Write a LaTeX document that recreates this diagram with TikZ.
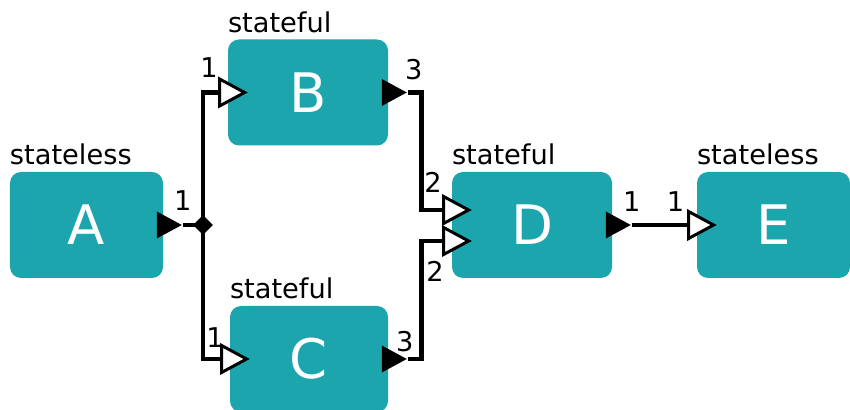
\documentclass[tikz,border=0pt]{standalone}
\usepackage{fontspec}
\setmainfont{DejaVu Sans}
\usetikzlibrary{positioning,shapes.geometric}

\definecolor{opteal}{HTML}{1CA5AD}

\tikzset{%
  >=latex,
  op/.style={fill=opteal, rounded corners=0.22cm, minimum width=3.2cm,
    minimum height=2.12cm, text=white, font=\fontsize{31}{31}\selectfont},
  kind/.style={inner sep=0pt, font=\fontsize{15.5}{16}\selectfont},
  num/.style={inner sep=0pt, font=\fontsize{15.5}{16}\selectfont},
  outport/.style={isosceles triangle, isosceles triangle stretches,
    fill=black, inner sep=0pt, minimum width=0.54cm, minimum height=0.5cm},
  inport/.style={outport, fill=white, draw=black, line width=1.7pt},
  wire/.style={line width=2.7pt}
}

\begin{document}
\begin{tikzpicture}
  \useasboundingbox (0,0) rectangle (17,8.2);

  % operators
  \node[op, minimum width=3.06cm] (a) at (1.73,3.7) {A};
  \node[op] (b) at (6.16,6.35) {B};
  \node[op, minimum width=3.16cm] (c) at (6.18,1.02) {C};
  \node[op] (d) at (10.64,3.7) {D};
  \node[op, minimum width=3.06cm] (e) at (15.47,3.7) {E};

  \foreach \n/\k in {a/stateless, b/stateful, c/stateful, d/stateful, e/stateless}
    \node[kind, above right=0.12cm and 0cm of \n.north west] (\n-kind) {\k};

  % ports
  \node[outport, xshift=0.03cm] (a-out) at (a.east) {};
  \node[inport] (b-in) at (b.west) {};
  \node[outport, xshift=0.03cm] (b-out) at (b.east) {};
  \node[inport] (c-in) at (c.west) {};
  \node[outport, xshift=0.03cm] (c-out) at (c.east) {};
  \node[inport, yshift=0.3cm] (d-in1) at (d.west) {};
  \node[inport, yshift=-0.32cm] (d-in2) at (d.west) {};
  \node[outport, xshift=0.03cm] (d-out) at (d.east) {};
  \node[inport] (e-in) at (e.west) {};

  \node[diamond, fill=black, inner sep=0pt, minimum size=0.4cm] (split) at (4.06,3.7) {};

  % wires
  \draw[wire] (a-out.apex) -- (split.center);
  \draw[wire] (split.center) |- (b-in.lower side);
  \draw[wire] (split.center) |- (c-in.lower side);
  \draw[wire] (b-out.apex) -- ++(0.28,0) |- (d-in1.lower side);
  \draw[wire] (c-out.apex) -- ++(0.28,0) |- (d-in2.lower side);
  \draw[wire] (d-out.apex) -- (e-in.lower side);

  % port numbers
  \node[num, above=0.28cm of a-out.apex] (a-n) {1};
  \node[num, above left=0.3cm and 0cm of b-in.lower side] (b-n1) {1};
  \node[num, above right=0.24cm and -0.06cm of b-out.apex] (b-n3) {3};
  \node[num, above=0.22cm of c-in.lower side, xshift=-0.1cm] (c-n1) {1};
  \node[num, above=0.14cm of c-out.apex, xshift=-0.06cm] (c-n3) {3};
  \node[num, above left=0.34cm and 0cm of d-in1.lower side] (d-n2a) {2};
  \node[num, below left=0.4cm and -0.04cm of d-in2.lower side] (d-n2b) {2};
  \node[num, above=0.26cm of d-out.apex] (d-n1) {1};
  \node[num, above left=0.26cm and 0.05cm of e-in.lower side] (e-n1) {1};
\end{tikzpicture}
\end{document}
